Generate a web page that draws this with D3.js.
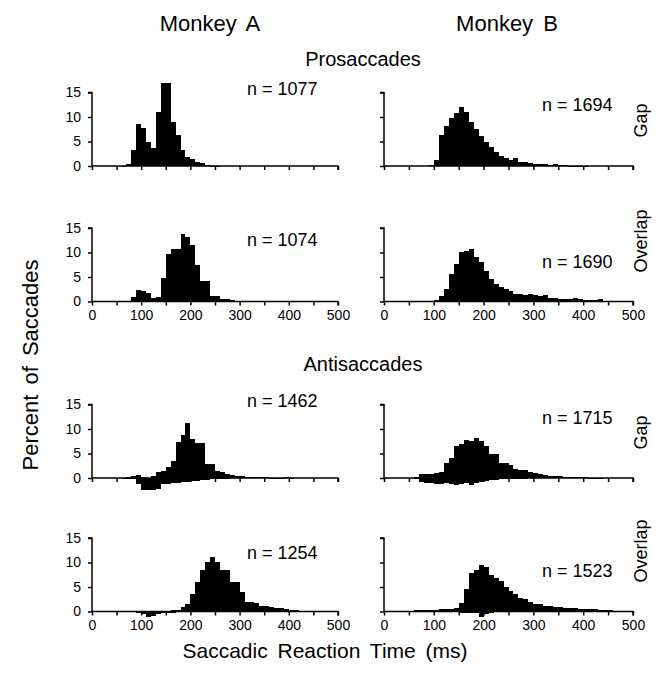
<!DOCTYPE html>
<html><head><meta charset="utf-8">
<script src="https://cdn.jsdelivr.net/npm/d3@7"></script>
<style>
html,body{margin:0;padding:0;background:#fff;}
text{font-family:"Liberation Sans",Arial,sans-serif;fill:#000;}
</style></head>
<body>
<script>
// ---------- DATA ----------
const bins = [0,10,20,30,40,50,60,70,80,90,100,110,120,130,140,150,160,170,180,190,200,210,220,230,240,250,260,270,280,290,300,310,320,330,340,350,360,370,380,390,400,410,420,430,440,450,460,470,480,490];
// Prosaccades (percent of saccades per 10 ms bin)
const proGapA     = [0,0,0,0,0,0,0.1,0.4,3.2,8.5, 7.7,4.9,3.6,11,17,17,9,6.4,3.2,1.8, 1.5,0.8,0.7,0.3,0.1,0.1,0,0,0,0, 0,0,0,0,0,0,0,0,0,0, 0,0,0,0,0,0,0,0,0,0];
const proOverlapA = [0,0.1,0.1,0.1,0.1,0.1,0.1,0.2,1.0,2.4, 2.2,1.7,0.8,1.0,4.8,9.6,10.8,10.8,13.8,13.2, 11.5,7.5,4.1,4.1,1.2,1.2,0.6,0.5,0.3,0.2, 0.1,0.1,0.2,0.2,0.1,0.1,0,0,0,0, 0,0,0,0,0,0,0,0,0,0];
const proGapB     = [0,0,0,0,0,0,0,0,0,0.3, 1.2,6.3,8.2,9.7,10.8,12,11,8.9,7.5,6.2, 4.8,3.8,2.9,2.1,1.7,1.3,1.6,0.9,0.8,0.6, 0.5,0.4,0.4,0.3,0.4,0.2,0.2,0.1,0.1,0.1, 0.1,0,0,0,0,0,0,0,0,0];
const proOverlapB = [0,0,0,0,0,0,0,0,0,0.1, 0.3,1.2,2.5,5.6,7.7,10.1,10.4,10.8,9.0,8.0, 6.3,4.6,3.6,2.9,2.5,2.1,1.6,1.5,1.4,1.6, 1.4,1.2,1.4,0.8,0.8,0.6,0.5,0.5,0.7,0.6, 0.4,0.3,0.4,0.6,0.2,0.1,0,0,0,0];
// Antisaccades: correct responses (up) and errors (down, negative)
const antiGapA       = [0,0,0,0,0,0,0.1,0.2,0.5,0.7, 0.3,0.1,0.5,1.2,1.4,2.2,3.4,7.3,8.7,11.2, 8.0,7.1,7.1,2.9,2.9,1.5,1.2,0.8,0.7,0.5, 0.5,0.3,0.2,0.2,0.2,0.2,0.1,0.1,0.1,0.2, 0.1,0,0,0,0,0,0,0,0,0];
const antiGapAErr    = [0,0,0,0,0,0,-0.1,-0.2,-0.3,-1.2, -2.5,-2.5,-2.5,-2.2,-1.3,-1.2,-1.1,-1.0,-0.9,-0.8, -0.7,-0.6,-0.5,-0.4,-0.3,-0.2,-0.2,-0.1,0,0, 0,0,0,0,0,0,0,0,0,0, 0,0,0,0,0,0,0,0,0,0];
const antiGapB       = [0,0,0,0,0,0,0.3,0.8,0.9,0.8, 1.0,1.3,3.0,4.1,6.5,7.0,7.8,7.5,8.2,7.5, 6.5,4.8,5.0,3.0,3.0,2.6,1.9,1.7,1.7,1.3, 1.0,0.8,0.6,0.5,0.5,0.4,0.3,0.3,0.2,0.2, 0.2,0.1,0.1,0.1,0,0,0,0,0,0];
const antiGapBErr    = [0,0,0,0,0,0,-0.3,-0.8,-1.0,-1.0, -1.2,-1.2,-1.0,-1.2,-1.5,-1.2,-1.0,-1.4,-1.0,-0.8, -0.7,-0.5,-0.4,-0.3,-0.3,-0.2,-0.2,-0.1,-0.1,0, 0,0,0,0,0,0,0,0,0,0, 0,0,0,0,0,0,0,0,0,0];
const antiOverlapA    = [0,0,0,0,0,0,0,0,0.2,0.2, 0,0,0,0,0.1,0.2,0.3,0.4,1.0,1.5, 3.6,6.0,8.4,10.1,11.1,10.1,8.4,8.4,6.0,6.0, 3.9,2.0,2.0,1.7,1.2,1.2,1.0,0.8,0.7,0.5, 0.3,0.3,0.2,0.1,0.1,0,0,0,0,0];
const antiOverlapAErr = [0,0,0,0,0,0,0,0,0,-0.2, -0.5,-1.1,-0.8,-0.5,-0.3,-0.2,-0.1,0,0,0, 0,0,0,0,0,0,0,0,0,0, 0,0,0,0,0,0,0,0,0,0, 0,0,0,0,0,0,0,0,0,0];
const antiOverlapB    = [0,0,0,0,0,0.2,0.3,0.3,0.3,0.4, 0.4,0.5,0.5,0.6,0.8,1.7,4.5,7.9,8.5,9.5, 9.0,7.5,6.8,6.3,5.0,4.1,3.5,2.8,2.5,2.0, 1.6,1.6,1.2,1.2,1.0,1.0,0.8,0.8,0.7,0.6, 0.6,0.5,0.5,0.4,0.3,0.3,0.2,0.1,0,0];
const antiOverlapBErr = [0,0,0,0,0,0,0,0,0,0, 0,0,0,0,0,-0.2,-0.2,-0.2,-0.3,-1.0, -0.5,-0.2,0,0,0,0,0,0,0,0, 0,0,0,0,0,0,0,0,0,0, 0,0,0,0,0,0,0,0,0,0];

const nLabels = ["n = 1077","n = 1694","n = 1074","n = 1690","n = 1462","n = 1715","n = 1254","n = 1523"];
const xTicks = [0,50,100,150,200,250,300,350,400,450,500];
const xTickLabels = [0,100,200,300,400,500];
const yTicks = [0,5,10,15];
const columnTitles = ["Monkey A","Monkey B"];
const sectionTitles = ["Prosaccades","Antisaccades"];
const conditionLabels = ["Gap","Overlap","Gap","Overlap"];

// ---------- LAYOUT ----------
const W = 659, H = 677;
const colX = [92, 384];         // x of 0 ms for each column
const colW = [246, 249];        // 0..500 ms width
const rowTop = [92.5, 228, 404.5, 538]; // y of 15 %
const panelH = 73.5;            // 0..15 %
const nOffset = [[-3.5, 12.5],[12,34],[-3.5,13.5],[15,33]];
const condOffset = [28, 13, 28, 13];

const panels = [
  {row:0,col:0,pos:proGapA,neg:null,n:0},
  {row:0,col:1,pos:proGapB,neg:null,n:1},
  {row:1,col:0,pos:proOverlapA,neg:null,n:2},
  {row:1,col:1,pos:proOverlapB,neg:null,n:3},
  {row:2,col:0,pos:antiGapA,neg:antiGapAErr,n:4},
  {row:2,col:1,pos:antiGapB,neg:antiGapBErr,n:5},
  {row:3,col:0,pos:antiOverlapA,neg:antiOverlapAErr,n:6},
  {row:3,col:1,pos:antiOverlapB,neg:antiOverlapBErr,n:7}
];

const svg = d3.select("body").append("svg").attr("width",W).attr("height",H);

panels.forEach(p=>{
  const x = d3.scaleLinear().domain([0,500]).range([colX[p.col], colX[p.col]+colW[p.col]]);
  const y = d3.scaleLinear().domain([0,15]).range([rowTop[p.row]+panelH, rowTop[p.row]]);
  const g = svg.append("g");
  const drawBars = (vals)=>{
    g.selectAll(null).data(bins.map((b,i)=>({b, v:vals[i]})).filter(d=>d.v!==0))
      .enter().append("rect")
      .attr("shape-rendering","crispEdges")
      .attr("x", d=>Math.round(x(d.b)))
      .attr("width", d=>Math.round(x(d.b+10))-Math.round(x(d.b)))
      .attr("y", d=>Math.round(Math.min(y(d.v), y(0))))
      .attr("height", d=>Math.max(1, Math.round(Math.abs(y(d.v)-y(0)))))
      .attr("fill","#000");
  };
  drawBars(p.pos);
  if(p.neg) drawBars(p.neg);

  const showX = (p.row===1 || p.row===3);
  const xa = d3.axisBottom(x).tickValues(xTicks).tickSize(4).tickPadding(5)
     .tickFormat(d=> showX && xTickLabels.includes(d) ? d : "");
  const gx = g.append("g").attr("transform",`translate(0,${y(0)})`).call(xa);
  gx.select(".domain").attr("d",`M${x(0)},0H${x(500)}V4`).attr("stroke-width",1.5);
  gx.selectAll(".tick line").attr("stroke-width",1.5);
  gx.selectAll("text").style("font-size","14px").attr("font-family",null);

  const ya = d3.axisLeft(y).tickValues(yTicks).tickSize(4).tickPadding(7)
     .tickFormat(d=> p.col===0 ? d : "");
  const gy = g.append("g").attr("transform",`translate(${x(0)},0)`).call(ya);
  gy.select(".domain").attr("d",`M-4,${y(15)}H0V${y(0)}`).attr("stroke-width",1.5);
  gy.selectAll(".tick line").attr("stroke-width",1.5);
  gy.selectAll("text").style("font-size","14px").attr("font-family",null);

  svg.append("text").attr("x", colX[p.col]+155 + (p.col?3:0))
    .attr("y", rowTop[p.row]+nOffset[p.row][p.col]).attr("dy","0.35em")
    .style("font-size","18px").text(nLabels[p.n]);
});

// condition labels (right side)
conditionLabels.forEach((t,i)=>{
  const cy = rowTop[i]+condOffset[i];
  svg.append("text").attr("transform",`translate(647,${cy}) rotate(-90)`)
    .attr("text-anchor","middle").style("font-size","18px").text(t);
});

// titles
svg.append("text").attr("x",210).attr("y",31).attr("text-anchor","middle")
  .style("font-size","22px").style("word-spacing","4px").text(columnTitles[0]);
svg.append("text").attr("x",507).attr("y",31).attr("text-anchor","middle")
  .style("font-size","22px").style("word-spacing","4px").text(columnTitles[1]);
svg.append("text").attr("x",363).attr("y",66).attr("text-anchor","middle")
  .style("font-size","20px").text(sectionTitles[0]);
svg.append("text").attr("x",363).attr("y",371).attr("text-anchor","middle")
  .style("font-size","20px").text(sectionTitles[1]);
svg.append("text").attr("transform","translate(38,365) rotate(-90)").attr("text-anchor","middle")
  .style("font-size","22px").style("word-spacing","4px").text("Percent of Saccades");
svg.append("text").attr("x",325).attr("y",658).attr("text-anchor","middle")
  .style("font-size","21px").style("word-spacing","4px").text("Saccadic Reaction Time (ms)");
</script>
</body></html>
